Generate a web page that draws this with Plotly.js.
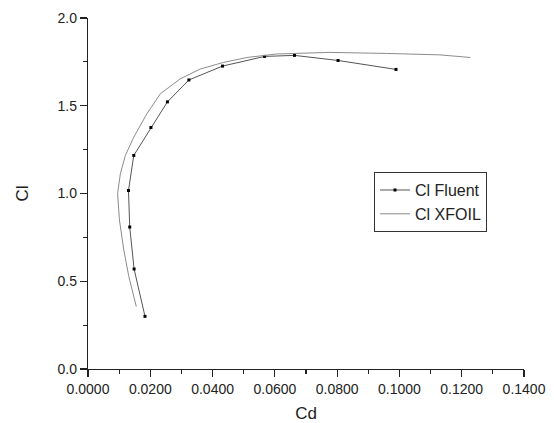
<!DOCTYPE html>
<html>
<head>
<meta charset="utf-8">
<script src="https://cdn.plot.ly/plotly-3.0.1.min.js"></script>
<style>html,body{margin:0;padding:0;background:#fff;}#chart{width:554px;height:423px;}</style>
</head>
<body>
<div id="chart"></div>
<script>
var fluentCd = [0.0183, 0.0148, 0.0134, 0.0130, 0.0147, 0.0202, 0.0255, 0.0324, 0.0432, 0.0567, 0.0663, 0.0803, 0.0989];
var fluentCl = [0.300, 0.570, 0.809, 1.017, 1.217, 1.376, 1.522, 1.647, 1.726, 1.781, 1.787, 1.758, 1.707];
var xfoilCd = [0.0155, 0.0131, 0.0115, 0.0101, 0.0095, 0.0104, 0.0120, 0.0147, 0.0189, 0.0232, 0.0296, 0.0360, 0.0435, 0.0510, 0.0606, 0.0777, 0.0959, 0.1130, 0.1228];
var xfoilCl = [0.356, 0.527, 0.678, 0.849, 1.000, 1.113, 1.217, 1.321, 1.454, 1.568, 1.653, 1.709, 1.747, 1.775, 1.795, 1.804, 1.798, 1.790, 1.775];
var xTicks = [0, 0.02, 0.04, 0.06, 0.08, 0.10, 0.12, 0.14];
var yTicks = [0, 0.5, 1.0, 1.5, 2.0];

var font = "Liberation Sans, Arial, sans-serif";
var data = [
  {x: fluentCd, y: fluentCl, name: "Cl Fluent", mode: "lines+markers", type: "scatter",
   line: {color: "#555555", width: 1}, marker: {symbol: "square", size: 3, color: "#000000"}},
  {x: xfoilCd, y: xfoilCl, name: "Cl XFOIL", mode: "lines", type: "scatter",
   line: {color: "#8c8c8c", width: 1}}
];
var layout = {
  width: 554, height: 423,
  margin: {l: 87.6, r: 29.7, t: 17.5, b: 53.5},
  paper_bgcolor: "#fff", plot_bgcolor: "#fff",
  font: {family: font, color: "#222", size: 14},
  showlegend: true,
  legend: {x: 0.656, y: 0.561, xanchor: "left", yanchor: "top", bgcolor: "#fff",
    bordercolor: "#333", borderwidth: 1, font: {size: 16, family: font, color: "#222"},
    tracegroupgap: 0},
  xaxis: {range: [0, 0.14], tickvals: xTicks, ticktext: xTicks.map(function(v){return v.toFixed(4);}),
    showgrid: false, zeroline: false, showline: true, linecolor: "#222", linewidth: 1.2,
    ticks: "outside", ticklen: 7, tickcolor: "#222", tickwidth: 1.2,
    minor: {dtick: 0.01, ticks: "outside", ticklen: 4, tickcolor: "#222", tickwidth: 1.2},
    title: {text: "Cd", font: {size: 17, family: font, color: "#222"}, standoff: 11},
    tickfont: {size: 14, family: font, color: "#222"}},
  yaxis: {range: [0, 2.0], tickvals: yTicks, ticktext: yTicks.map(function(v){return v.toFixed(1);}),
    showgrid: false, zeroline: false, showline: true, linecolor: "#222", linewidth: 1.2,
    ticks: "outside", ticklen: 7, tickcolor: "#222", tickwidth: 1.2,
    minor: {dtick: 0.25, ticks: "outside", ticklen: 4, tickcolor: "#222", tickwidth: 1.2},
    title: {text: "Cl", font: {size: 17, family: font, color: "#222"}, standoff: 24},
    tickfont: {size: 14, family: font, color: "#222"}}
};
Plotly.newPlot("chart", data, layout, {displayModeBar: false, staticPlot: true});
</script>
</body>
</html>
